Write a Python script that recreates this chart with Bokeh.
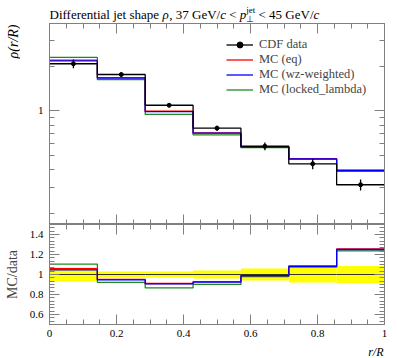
import math
from bokeh.plotting import figure
from bokeh.layouts import column, row
from bokeh.models import (FixedTicker, SingleIntervalTicker, LogAxis, LinearAxis,
                          CustomJSTickFormatter, Legend, LegendItem, Label, Range1d)
from bokeh.embed import file_html
from bokeh.resources import INLINE

# ---------------- data ----------------
edges = [0.0, 0.1429, 0.2857, 0.4286, 0.5714, 0.7143, 0.8571, 1.0]
centers = [0.0714, 0.2143, 0.3571, 0.5, 0.6429, 0.7857, 0.9286]
data = [2.09, 1.766, 1.091, 0.762, 0.574, 0.436, 0.314]
data_err = [0.146, 0.053, 0.033, 0.030, 0.034, 0.035, 0.027]
mc_eq = [2.211, 1.680, 0.993, 0.707, 0.568, 0.473, 0.394]
mc_wz = [2.188, 1.671, 0.988, 0.704, 0.567, 0.471, 0.3925]
mc_ll = [2.307, 1.628, 0.945, 0.686, 0.5625, 0.468, 0.388]
labels = ["CDF data", "MC (eq)", "MC (wz-weighted)", "MC (locked_lambda)"]
main_minor = [0.2, 0.3, 0.4, 0.5, 0.6, 0.7, 0.8, 0.9, 2, 3]

FONT = "Liberation Serif"
AX = "#808080"
RED, BLUE, GREEN = "#ff0000", "#0000ff", "#1f8a1f"
LW = 1.3

num_fmt = CustomJSTickFormatter(code="return Number(tick.toFixed(2)).toString();")
def empty_fmt():
    return CustomJSTickFormatter(code="return '';")

def style_axis(ax, labels_on, major_in=10, minor_in=5):
    ax.major_tick_in = major_in
    ax.major_tick_out = 0
    ax.minor_tick_in = minor_in
    ax.minor_tick_out = 0
    ax.axis_line_color = AX
    ax.major_tick_line_color = AX
    ax.minor_tick_line_color = AX
    if labels_on:
        ax.major_label_text_font = FONT
        ax.major_label_text_font_size = "11px"
        ax.major_label_text_color = "black"
    else:
        ax.formatter = empty_fmt()
        ax.major_label_text_font_size = "0px"
        ax.major_label_standoff = 0

def steps(vals):
    return list(vals) + [vals[-1]]

def blank(width, height):
    f = figure(width=width, height=height, x_range=Range1d(0, 1), y_range=Range1d(0, 1),
               x_axis_location=None, y_axis_location=None, output_backend="svg",
               toolbar_location=None, min_border=0)
    f.grid.grid_line_color = None
    f.outline_line_color = None
    return f

W = 392
LEFT = 49
RIGHT = W - LEFT - 335
YLW = 20

# ---------------- title strip (frame aligned with the panels) ----------------
title_fig = blank(W, 23)
TW = {' ': 250, ',': 250, '/': 278, '<': 564, '3': 500, '4': 500, '5': 500, '7': 500,
      'D': 722, 'G': 722, 'V': 722, 'a': 444, 'e': 444, 'f': 333, 'h': 500, 'i': 278,
      'j': 278, 'l': 278, 'n': 500, 'p': 500, 'r': 333, 's': 389, 't': 278, 'c': 444,
      'ρ': 520, '⊥': 640}
def tw(s, size):
    return sum(TW.get(ch, 500) for ch in s) * size / 1000.0

TS = 13
base_y = 9
xpos = 0.0
def put(text, style, size, y):
    global xpos
    lead = len(text) - len(text.lstrip(' '))
    title_fig.add_layout(Label(x=xpos + tw(' ' * lead, size), y=y, x_units="screen", y_units="screen",
                               text=text.strip(), text_font=FONT, text_font_style=style,
                               text_font_size=f"{size}px", text_color="black",
                               text_align="left", text_baseline="alphabetic"))
    xpos += tw(text, size)

put("Differential jet shape ", "normal", TS, base_y)
put("ρ", "italic", TS, base_y)
put(", 37 GeV/", "normal", TS, base_y)
put("c", "italic", TS, base_y)
put(" < ", "normal", TS, base_y)
put("p", "italic", TS, base_y)
x0 = xpos
put("jet", "normal", 9, base_y + 5)
x1 = xpos
xpos = x0
put("⊥", "normal", 9, base_y - 4)
xpos = max(x1, xpos)
put(" < 45 GeV/", "normal", TS, base_y)
put("c", "italic", TS, base_y)

# ---------------- y-label strip ----------------
ylab_fig = blank(YLW, 201)
ylab_fig.add_layout(Label(x=13, y=200, x_units="screen", y_units="screen", text="ρ(r/R)",
                          angle=math.pi / 2, text_align="right", text_baseline="alphabetic",
                          text_font=FONT, text_font_style="italic", text_font_size="14px",
                          text_color="black"))

# ---------------- main panel ----------------
main = figure(width=W - YLW, height=201, x_range=Range1d(0, 1), y_range=Range1d(0.1685, 3.926),
              y_axis_type="log", output_backend="svg", toolbar_location=None,
              min_border_left=LEFT - YLW, min_border_right=RIGHT, min_border_top=0, min_border_bottom=0)
main.grid.grid_line_color = None
main.outline_line_color = AX
main.background_fill_color = "white"

style_axis(main.xaxis[0], False)
main.xaxis[0].ticker = SingleIntervalTicker(interval=0.2, num_minor_ticks=4)
main.yaxis[0].ticker = FixedTicker(ticks=[1], minor_ticks=main_minor)
main.yaxis[0].formatter = num_fmt
style_axis(main.yaxis[0], True)
main.yaxis[0].major_label_standoff = 6

top_ax = LinearAxis(ticker=SingleIntervalTicker(interval=0.2, num_minor_ticks=4))
style_axis(top_ax, False)
main.add_layout(top_ax, "above")
right_ax = LogAxis(ticker=FixedTicker(ticks=[1], minor_ticks=main_minor))
style_axis(right_ax, False)
main.add_layout(right_ax, "right")

r_ll = main.step(x=edges, y=steps(mc_ll), mode="after", line_color=GREEN, line_width=LW)
r_eq = main.step(x=edges, y=steps(mc_eq), mode="after", line_color=RED, line_width=LW)
r_wz = main.step(x=edges, y=steps(mc_wz), mode="after", line_color=BLUE, line_width=LW)
r_dl = main.step(x=edges, y=steps(data), mode="after", line_color="black", line_width=LW)
main.segment(x0=centers, x1=centers,
             y0=[d - e for d, e in zip(data, data_err)],
             y1=[d + e for d, e in zip(data, data_err)],
             line_color="black", line_width=1.3)
r_dp = main.scatter(x=centers, y=data, size=4, marker="circle", fill_color="black", line_color="black")

legend = Legend(items=[
    LegendItem(label=labels[0], renderers=[r_dl, r_dp]),
    LegendItem(label=labels[1], renderers=[r_eq]),
    LegendItem(label=labels[2], renderers=[r_wz]),
    LegendItem(label=labels[3], renderers=[r_ll]),
], location=(177, 127))
legend.label_text_font = FONT
legend.label_text_font_size = "12.5px"
legend.glyph_width = 27
legend.glyph_height = 15
legend.label_height = 15
legend.spacing = 0
legend.padding = 0
legend.margin = 0
legend.label_standoff = 6
legend.background_fill_alpha = 0
legend.border_line_color = None
main.add_layout(legend)

# ---------------- ratio panel ----------------
ratio = figure(width=W, height=117, x_range=main.x_range, y_range=Range1d(0.5, 1.5),
               output_backend="svg", toolbar_location=None,
               min_border_left=LEFT, min_border_right=RIGHT, min_border_top=0, min_border_bottom=17)
ratio.grid.grid_line_color = None
ratio.outline_line_color = AX
ratio.background_fill_color = "white"

ratio.xaxis[0].ticker = SingleIntervalTicker(interval=0.2, num_minor_ticks=4)
ratio.xaxis[0].formatter = num_fmt
style_axis(ratio.xaxis[0], True)
ratio.xaxis[0].major_label_standoff = 5
ratio.yaxis[0].ticker = SingleIntervalTicker(interval=0.2, num_minor_ticks=6)
ratio.yaxis[0].formatter = num_fmt
style_axis(ratio.yaxis[0], True)
ratio.yaxis[0].major_label_standoff = 6
ratio.yaxis[0].axis_label = "MC/data"
ratio.yaxis[0].axis_label_text_font = FONT
ratio.yaxis[0].axis_label_text_font_style = "normal"
ratio.yaxis[0].axis_label_text_font_size = "14px"
ratio.yaxis[0].axis_label_standoff = 7

rt = LinearAxis(ticker=SingleIntervalTicker(interval=0.2, num_minor_ticks=4))
style_axis(rt, False)
ratio.add_layout(rt, "above")
rr = LinearAxis(ticker=SingleIntervalTicker(interval=0.2, num_minor_ticks=6))
style_axis(rr, False)
ratio.add_layout(rr, "right")

rel = [e / d for e, d in zip(data_err, data)]
ratio.quad(left=edges[:-1], right=edges[1:], bottom=[1 - r for r in rel], top=[1 + r for r in rel],
           fill_color="#ffff00", line_color=None)
ratio.step(x=edges, y=steps([d / d for d in data]), mode="after", line_color="#333333", line_width=1)
ratio.step(x=edges, y=steps([m / d for m, d in zip(mc_ll, data)]), mode="after", line_color=GREEN, line_width=LW)
ratio.step(x=edges, y=steps([m / d for m, d in zip(mc_eq, data)]), mode="after", line_color=RED, line_width=LW)
ratio.step(x=edges, y=steps([m / d for m, d in zip(mc_wz, data)]), mode="after", line_color=BLUE, line_width=LW)

# ---------------- x-label strip (frame aligned with the panels) ----------------
xlab_fig = blank(W, 16)
xlab_fig.add_layout(Label(x=334, y=6, x_units="screen", y_units="screen", text="r/R",
                          text_align="right", text_baseline="alphabetic", text_font=FONT,
                          text_font_style="italic", text_font_size="12px", text_color="black"))

layout = column(title_fig, row(ylab_fig, main, spacing=0), ratio, xlab_fig, spacing=0)
open("out.html", "w").write(file_html(layout, INLINE))
